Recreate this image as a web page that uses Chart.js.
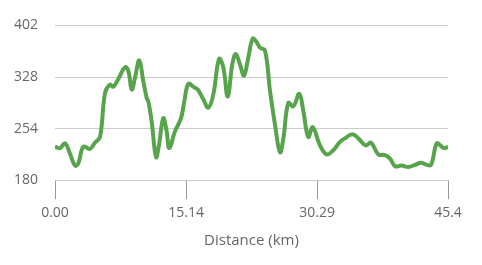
<!DOCTYPE html>
<html>
<head>
<meta charset="utf-8">
<script src="https://cdn.jsdelivr.net/npm/chart.js@4"></script>
<style>
  html, body { margin: 0; padding: 0; background: #fff; }
  #wrap { width: 482px; height: 265px; }
</style>
</head>
<body>
<div id="wrap"><canvas id="chart" width="482" height="265"></canvas></div>
<script>
// distance (km) and elevation (m)
const distance = [0, 0.58, 1.16, 1.73, 2.31, 2.69, 3.27, 4.04, 4.62, 5.20, 5.78, 6.35, 6.74, 7.31, 8.09, 8.47, 8.86, 9.24, 9.74, 10.20,
  10.59, 10.78, 11.17, 11.67, 12.01, 12.51, 12.90, 13.20, 13.86, 14.56, 14.94, 15.40, 16.09, 16.49, 17.13, 17.71, 18.29, 18.95, 19.44, 19.95,
  20.48, 20.88, 21.37, 21.83, 22.33, 22.84, 23.30, 23.68, 24.26, 24.84, 25.42, 25.99, 26.38, 26.95, 27.53, 28.22, 28.69, 29.26, 29.77, 30.61,
  31.39, 32.15, 32.93, 33.50, 34.35, 35.04, 35.89, 36.51, 37.35, 38.12, 38.70, 39.28, 40.05, 40.82, 41.59, 42.28, 42.94, 43.44, 44.10, 44.59,
  44.97, 45.4];
const elevation = [228, 226, 233, 218, 201, 204, 228, 225, 234, 242, 305, 317, 314, 325, 342, 337, 310, 327, 352, 322,
  298, 293, 264, 213, 230, 269, 250, 226, 250, 269, 293, 318, 313, 310, 296, 284, 303, 354, 342, 300,
  346, 361, 346, 330, 356, 383, 378, 370, 366, 308, 259, 220, 240, 291, 286, 304, 279, 242, 256, 230,
  217, 223, 235, 240, 246, 240, 230, 234, 217, 216, 211, 200, 201, 199, 202, 205, 202, 202, 233, 229,
  226, 228];
const xTicks = [0, 15.14, 30.29, 45.4];
const xTickLabels = ['0.00', '15.14', '30.29', '45.4'];
const yTicks = [180, 254, 328, 402];

const points = distance.map((d, i) => ({ x: d, y: elevation[i] }));

new Chart(document.getElementById('chart').getContext('2d'), {
  type: 'line',
  data: {
    datasets: [{
      data: points,
      borderColor: '#58a44c',
      borderWidth: 4,
      pointRadius: 0,
      tension: 0.4,
      fill: false
    }]
  },
  options: {
    responsive: false,
    animation: false,
    layout: { padding: { left: 12, right: 34, top: 16, bottom: 15 } },
    plugins: { legend: { display: false }, tooltip: { enabled: false } },
    scales: {
      x: {
        type: 'linear',
        min: 0,
        max: 45.4,
        afterBuildTicks: s => { s.ticks = xTicks.map(v => ({ value: v })); },
        ticks: {
          color: '#666',
          font: { family: 'Open Sans', size: 14 },
          padding: 5,
          maxRotation: 0,
          callback: (v, i) => xTickLabels[i]
        },
        grid: { drawOnChartArea: false, color: '#999', tickLength: 19 },
        border: { display: true, color: '#ccc' },
        title: {
          display: true,
          text: 'Distance (km)',
          color: '#666',
          font: { family: 'Open Sans', size: 15 },
          padding: { top: 6, bottom: 0 }
        }
      },
      y: {
        min: 180,
        max: 402,
        afterBuildTicks: s => { s.ticks = yTicks.map(v => ({ value: v })); },
        afterFit: s => { s.width = 43; },
        ticks: {
          color: '#666',
          font: { family: 'Open Sans', size: 14 },
          padding: 17
        },
        grid: { color: '#ccc', drawTicks: false },
        border: { display: false }
      }
    }
  }
});
</script>
</body>
</html>
